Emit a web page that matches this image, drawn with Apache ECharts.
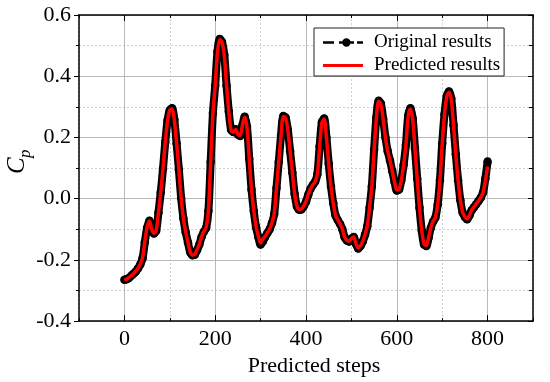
<!DOCTYPE html>
<html>
<head>
<meta charset="utf-8">
<script src="https://cdn.jsdelivr.net/npm/echarts@6/dist/echarts.min.js"></script>
<style>
html,body{margin:0;padding:0;background:#fff;}
#chart{width:550px;height:382px;}
</style>
</head>
<body>
<div id="chart"></div>
<script>
// x positions: predicted steps 0..800, sampled every 5 steps
const steps = Array.from({length: 161}, (_, i) => i * 5);

// Original results (black dots)
const original = [
  // 0 - 95
  -0.265, -0.263, -0.259, -0.252, -0.245, -0.238, -0.228, -0.215, -0.195, -0.142,
  -0.095, -0.072, -0.100, -0.114, -0.105, -0.045, 0.020, 0.098, 0.185, 0.255,
  // 100 - 195
  0.290, 0.295, 0.258, 0.180, 0.095, 0.002, -0.065, -0.110, -0.143, -0.175,
  -0.185, -0.183, -0.168, -0.150, -0.125, -0.108, -0.096, -0.040, 0.120, 0.280,
  // 200 - 295
  0.370, 0.480, 0.522, 0.512, 0.470, 0.370, 0.285, 0.225, 0.218, 0.227,
  0.210, 0.205, 0.240, 0.268, 0.235, 0.130, 0.030, -0.040, -0.093, -0.125,
  // 300 - 395
  -0.150, -0.140, -0.125, -0.112, -0.100, -0.080, -0.050, 0.035, 0.120, 0.206,
  0.270, 0.265, 0.225, 0.155, 0.085, 0.015, -0.025, -0.036, -0.035, -0.025,
  // 400 - 495
  -0.010, 0.013, 0.032, 0.045, 0.055, 0.080, 0.170, 0.250, 0.262, 0.200,
  0.115, 0.040, -0.015, -0.055, -0.070, -0.083, -0.100, -0.126, -0.137, -0.140,
  // 500 - 595
  -0.131, -0.125, -0.148, -0.163, -0.155, -0.140, -0.118, -0.090, -0.030, 0.040,
  0.160, 0.265, 0.320, 0.310, 0.260, 0.200, 0.155, 0.125, 0.090, 0.055,
  // 600 - 695
  0.027, 0.030, 0.060, 0.110, 0.175, 0.270, 0.295, 0.262, 0.165, 0.065,
  -0.030, -0.105, -0.150, -0.155, -0.128, -0.095, -0.075, -0.062, -0.020, 0.060,
  // 700 - 795
  0.180, 0.275, 0.335, 0.350, 0.327, 0.240, 0.145, 0.060, -0.005, -0.045,
  -0.060, -0.067, -0.055, -0.038, -0.028, -0.018, -0.008, 0.003, 0.020, 0.065,
  // 800
  0.121
];

// Predicted results (red line)
const predicted = [
  // 0 - 95
  -0.266, -0.263, -0.258, -0.252, -0.245, -0.237, -0.228, -0.214, -0.193, -0.140,
  -0.094, -0.073, -0.100, -0.113, -0.104, -0.046, 0.020, 0.098, 0.184, 0.254,
  // 100 - 195
  0.289, 0.294, 0.257, 0.180, 0.096, 0.003, -0.064, -0.109, -0.142, -0.174,
  -0.184, -0.182, -0.167, -0.149, -0.124, -0.107, -0.095, -0.040, 0.118, 0.278,
  // 200 - 295
  0.368, 0.478, 0.520, 0.511, 0.468, 0.370, 0.284, 0.224, 0.217, 0.226,
  0.210, 0.206, 0.240, 0.266, 0.234, 0.131, 0.031, -0.039, -0.091, -0.123,
  // 300 - 395
  -0.145, -0.132, -0.123, -0.111, -0.099, -0.079, -0.049, 0.035, 0.120, 0.205,
  0.268, 0.264, 0.224, 0.155, 0.085, 0.016, -0.024, -0.035, -0.034, -0.024,
  // 400 - 495
  -0.009, 0.014, 0.032, 0.045, 0.055, 0.080, 0.168, 0.248, 0.260, 0.199,
  0.115, 0.040, -0.014, -0.054, -0.069, -0.082, -0.099, -0.125, -0.136, -0.139,
  // 500 - 595
  -0.130, -0.125, -0.147, -0.161, -0.154, -0.139, -0.117, -0.089, -0.029, 0.040,
  0.158, 0.263, 0.318, 0.308, 0.259, 0.199, 0.155, 0.125, 0.090, 0.055,
  // 600 - 695
  0.028, 0.031, 0.060, 0.110, 0.174, 0.268, 0.293, 0.260, 0.164, 0.064,
  -0.029, -0.104, -0.148, -0.153, -0.127, -0.094, -0.074, -0.061, -0.019, 0.060,
  // 700 - 795
  0.178, 0.273, 0.333, 0.348, 0.325, 0.239, 0.144, 0.060, -0.004, -0.044,
  -0.059, -0.066, -0.054, -0.037, -0.027, -0.017, -0.007, 0.004, 0.020, 0.058,
  // 800
  0.105
];

const xTickLabels = ['0', '200', '400', '600', '800'];
const yTickLabels = ['-0.4', '-0.2', '0.0', '0.2', '0.4', '0.6'];
const seriesNames = ['Original results', 'Predicted results'];

const FONT = 'Liberation Serif';
const chart = echarts.init(document.getElementById('chart'), null, {renderer: 'canvas'});

const pair = (xs, ys) => xs.map((x, i) => [x, ys[i]]);

const gridMajor = {color: '#b9b9b9', width: 1, type: 'solid'};
const gridMinor = {color: '#cfcfcf', width: 1, type: [2, 2]};
const axisLineStyle = {color: '#000', width: 1.5};

// legend icons: dashed line with a dot, and a plain line
const ICON_ORIGINAL = 'path://M0 5H11V7.4H0Z M16 5H31V7.4H16Z M34 5H40V7.4H34Z M27.6 6.2A4.2 4.2 0 1 1 19.2 6.2A4.2 4.2 0 1 1 27.6 6.2Z';
const ICON_PREDICTED = 'path://M0 0H40V3H0Z';

const option = {
  animation: false,
  backgroundColor: '#fff',
  grid: {left: 79, right: 17, top: 15, bottom: 55, containLabel: false},
  legend: {
    orient: 'vertical',
    left: 314,
    top: 28,
    padding: [5, 4, 1, 9],
    itemGap: 4,
    itemWidth: 40,
    itemHeight: 12,
    symbolKeepAspect: true,
    borderColor: '#222',
    borderWidth: 1,
    backgroundColor: '#fff',
    textStyle: {fontFamily: FONT, fontSize: 19, color: '#000', padding: [0, 0, 0, 6]},
    data: [
      {name: seriesNames[0], icon: ICON_ORIGINAL, itemStyle: {color: '#000'}},
      {name: seriesNames[1], icon: ICON_PREDICTED, itemStyle: {color: '#ff0000'}}
    ]
  },
  xAxis: [
    { // tick labels + axis name
      type: 'value', position: 'bottom', min: -100, max: 900, interval: 100,
      axisLine: {show: false}, axisTick: {show: false}, splitLine: {show: false},
      axisLabel: {
        fontFamily: FONT, fontSize: 22, color: '#000', margin: 7,
        formatter: v => xTickLabels.includes(String(v)) ? String(v) : ''
      },
      name: 'Predicted steps', nameLocation: 'middle', nameGap: 27,
      nameTextStyle: {fontFamily: FONT, fontSize: 22, color: '#000', padding: [0, 0, 0, 16]}
    },
    { // bottom frame, ticks and grid
      type: 'value', position: 'bottom', min: -100, max: 900, interval: 200,
      axisLine: {show: true, onZero: false, lineStyle: axisLineStyle},
      axisTick: {show: true, inside: true, length: 3, lineStyle: {color: '#000', width: 1}},
      minorTick: {show: true, splitNumber: 2, length: 6, lineStyle: {color: '#000', width: 1}},
      splitLine: {show: true, lineStyle: gridMinor},
      minorSplitLine: {show: true, lineStyle: gridMajor},
      axisLabel: {show: false}
    },
    { // top frame
      type: 'value', position: 'top', min: -100, max: 900, interval: 200,
      axisLine: {show: true, onZero: false, lineStyle: axisLineStyle},
      axisTick: {show: true, inside: true, length: 3, lineStyle: {color: '#000', width: 1}},
      minorTick: {show: true, splitNumber: 2, length: 6, lineStyle: {color: '#000', width: 1}},
      splitLine: {show: false}, axisLabel: {show: false}
    }
  ],
  yAxis: [
    {
      type: 'value', position: 'left', min: -0.4, max: 0.6, interval: 0.2,
      axisLine: {show: true, onZero: false, lineStyle: axisLineStyle},
      axisTick: {show: true, inside: false, length: 5, lineStyle: {color: '#000', width: 1}},
      minorTick: {show: true, splitNumber: 2, length: 3, lineStyle: {color: '#000', width: 1}},
      splitLine: {show: true, lineStyle: gridMajor},
      minorSplitLine: {show: true, lineStyle: gridMinor},
      axisLabel: {
        fontFamily: FONT, fontSize: 22, color: '#000', margin: 8,
        formatter: v => {
          const s = (Math.round(v * 10) / 10).toFixed(1);
          return yTickLabels.includes(s) ? s : '';
        }
      }
    },
    {
      type: 'value', position: 'right', min: -0.4, max: 0.6, interval: 0.2,
      axisLine: {show: true, onZero: false, lineStyle: axisLineStyle},
      axisTick: {show: true, inside: true, length: 5, lineStyle: {color: '#000', width: 1}},
      minorTick: {show: true, splitNumber: 2, length: 4, lineStyle: {color: '#000', width: 1}},
      splitLine: {show: false}, axisLabel: {show: false}
    }
  ],
  graphic: [
    {
      type: 'group', x: 25, y: 174, rotation: Math.PI / 2,
      children: [
        {type: 'text', x: 0, y: 5, style: {text: 'C', fontFamily: FONT, fontStyle: 'italic', fontSize: 25, fill: '#000', textAlign: 'left', textVerticalAlign: 'bottom'}},
        {type: 'text', x: 16, y: 9, style: {text: 'p', fontFamily: FONT, fontStyle: 'italic', fontSize: 17, fill: '#000', textAlign: 'left', textVerticalAlign: 'bottom'}}
      ]
    }
  ],
  series: [
    {
      name: seriesNames[0], type: 'line', xAxisIndex: 1, yAxisIndex: 0,
      data: pair(steps, original),
      smooth: 0.3,
      symbol: 'circle', symbolSize: 8.5, showSymbol: true, showAllSymbol: true,
      itemStyle: {color: '#000'},
      lineStyle: {color: '#000', width: 8},
      z: 3
    },
    {
      name: seriesNames[1], type: 'line', xAxisIndex: 1, yAxisIndex: 0,
      data: pair(steps, predicted),
      smooth: 0.3,
      showSymbol: false, symbol: 'none',
      lineStyle: {color: '#ff0000', width: 3.5},
      itemStyle: {color: '#ff0000'},
      z: 4
    }
  ]
};
chart.setOption(option);
</script>
</body>
</html>
